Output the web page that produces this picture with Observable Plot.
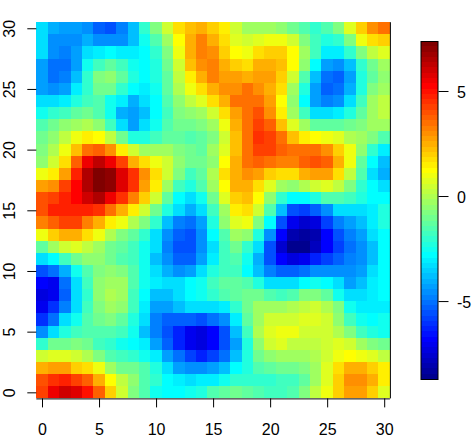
<!DOCTYPE html>
<html>
<head>
<meta charset="utf-8">
<script src="https://cdn.jsdelivr.net/npm/d3@7"></script>
<script src="https://cdn.jsdelivr.net/npm/@observablehq/plot@0.6"></script>
<style>
html,body{margin:0;padding:0;background:#fff;}
#wrap{position:relative;width:474px;height:444px;overflow:hidden;}
#wrap svg{position:absolute;left:0;top:0;background:transparent;}
</style>
</head>
<body>
<div id="wrap"></div>
<script>
const xTicks = [0,5,10,15,20,25,30];
const yTicks = [0,5,10,15,20,25,30];
const barTicks = [-5,0,5];
const zMin = -8.71, zMax = 7.38;
const palette = ["#00008F","#00009F","#0000AF","#0000BF","#0000CF","#0000DF","#0000EF","#0000FF","#0010FF","#0020FF","#0030FF","#0040FF","#0050FF","#0060FF","#0070FF","#0080FF","#008FFF","#009FFF","#00AFFF","#00BFFF","#00CFFF","#00DFFF","#00EFFF","#00FFFF","#10FFEF","#20FFDF","#30FFCF","#40FFBF","#50FFAF","#60FF9F","#70FF8F","#80FF80","#8FFF70","#9FFF60","#AFFF50","#BFFF40","#CFFF30","#DFFF20","#EFFF10","#FFFF00","#FFEF00","#FFDF00","#FFCF00","#FFBF00","#FFAF00","#FF9F00","#FF8F00","#FF8000","#FF7000","#FF6000","#FF5000","#FF4000","#FF3000","#FF2000","#FF1000","#FF0000","#EF0000","#DF0000","#CF0000","#BF0000","#AF0000","#9F0000","#8F0000","#800000"];
// rows from y = 30 (top) to y = 0 (bottom), columns x = 0..30
const zRows = [
[-3.4,-4,-4.3,-4.3,-4.6,-5.3,-5.5,-4.8,-3.8,-2.1,-.8,.4,1.6,2.2,2.6,2.1,1.4,.4,-.4,-.4,-.4,-.6,-1.1,-1.6,-2.1,-1.6,-.8,.7,2,3,3.5],
[-3.2,-4.5,-4.6,-4.5,-4.1,-4.5,-4.5,-4.5,-3.8,-2.6,-1.5,-.2,1.2,2.4,3.3,2.6,1.8,.8,.4,.8,1,1,.4,-.8,-1.8,-2.3,-2.1,-.8,1,1.7,2.1],
[-3.4,-4.6,-4.8,-4.2,-3.2,-3,-2.8,-3,-3,-2.8,-2.1,-.8,1,2.4,3.3,3.1,2,1.2,1,1.6,2,2,1.2,-.4,-1.8,-3,-3.1,-2.1,-.8,.2,.8],
[-4.2,-5,-5,-4.2,-2.6,-1.8,-1.3,-1.8,-2.6,-2.8,-2.3,-1,.5,2.2,2.9,3.2,2.5,2,1.7,2.4,2.5,2.3,1.2,-.6,-2.8,-4.2,-4.5,-3.8,-2.1,-1,-.4],
[-4.3,-5,-4.8,-3.8,-2.1,-.8,-.6,-1.2,-2.3,-2.8,-2.3,-1.2,.2,1.4,2.4,3.2,2.8,2.8,2.5,2.8,2.8,2,.4,-1.6,-3.8,-5,-5.3,-4.2,-2.3,-1.2,-.6],
[-4.2,-4.5,-4.2,-3,-2.1,-1,-1,-2.1,-2.8,-3,-2.6,-1.2,0,1,1.6,2.6,2.9,3.1,3.4,3.1,2.5,1.6,-.4,-2.3,-4.2,-5.3,-5,-4,-2.3,-.8,-.4],
[-3.4,-3.2,-3,-2.3,-1.8,-1.6,-2.6,-3,-4,-3.4,-2.8,-1.6,-.6,.2,.8,1.6,2.5,3.4,3.6,3.4,2.8,1.2,-.6,-2.8,-4.2,-4.8,-4.5,-3.3,-1.8,-.4,.2],
[-2.6,-2.1,-1.8,-1.3,-1,-1.6,-2.6,-4,-4.3,-3.8,-2.8,-1.8,-.8,-.6,-.4,.4,1.8,2.7,3.6,4,3.1,1.5,-.4,-1.8,-3.2,-3.4,-3,-2.3,-1.2,-.4,.2],
[-1.6,-1,-.6,-.4,0,-.6,-1.8,-3.4,-4.2,-3.4,-2.6,-1.6,-1,-1,-.8,-.4,1,2.4,3.6,4.2,3.7,2.2,.8,-.4,-1.2,-1.2,-1.2,-1,-.8,-.4,-.4],
[-1,-.6,.1,.9,1.5,1.2,.2,-1,-2.3,-2.3,-1.8,-1.3,-1.3,-1.5,-1.2,-.8,.4,2.3,3.6,4.4,4.2,3.4,2.2,1.5,1.2,1,.8,0,-.4,-.8,-1.6],
[-.8,0,1,2.2,3.6,3.8,3,1.5,.4,-.2,-.2,-.4,-.8,-1,-1.2,-.4,.8,2.3,3.6,4.2,4.2,3.7,3.4,3.4,3.4,3.1,2,1,-.6,-2.1,-3],
[-.6,.5,1.7,3.8,5.5,6.3,5.6,4.2,2.6,1.7,1,.4,-.6,-1,-1,-.5,1.2,2.4,3.4,3.8,3.6,3.3,3.3,3.7,4,3.7,2.4,1,-1.2,-2.8,-3.8],
[1,1.5,2.7,4.8,6.6,7.3,7,5.8,4.5,3.1,1.7,.4,-.8,-1.8,-1.2,0,1.6,2.4,3.1,2.8,2,1.7,1.7,2.4,2.8,2.8,1.7,.2,-1.6,-3.2,-4],
[2.7,3,4.2,5.2,6.6,7.3,7.1,5.8,4.5,2.8,1.4,-.2,-1.8,-2.3,-1.6,-.4,1.2,2.4,2.4,1.6,.8,-.4,-.6,0,.5,.8,.2,-.8,-2.1,-2.8,-3.4],
[4.1,4.3,4.8,5.2,6,6.4,5.5,4.5,3.3,2,.4,-1.2,-2.8,-3.2,-2.6,-1,.8,2,2.3,1.2,-.6,-2.1,-2.8,-2.8,-2.3,-1.6,-1.6,-1.8,-2.3,-2.8,-2.8],
[4,4.7,4.7,4.7,4.7,4.4,3.6,2.6,1.4,.4,-1,-2.3,-3.3,-4,-3.3,-1.8,-.4,1.5,1.8,.4,-1.6,-3.8,-5.5,-5.8,-5.3,-4.5,-3.4,-3.2,-3.2,-3,-2.3],
[3.2,3.7,4.2,4.2,3.2,2.5,1.4,.9,0,-.8,-2.1,-3.8,-4.8,-5,-4.3,-2.4,-.6,.7,1,-.8,-2.8,-5.5,-7.2,-7.7,-7.4,-5.8,-4.8,-4.2,-3.7,-3,-2.3],
[1,2.1,2.4,2.4,1.7,.9,0,-.8,-1.2,-2,-3.2,-4.5,-5.3,-5.5,-4.5,-2.8,-1.5,-.4,-.6,-2.3,-4.5,-6.8,-8,-8.3,-8,-6.8,-5.5,-4.8,-4.2,-3.4,-2.8],
[-1.2,-.4,.5,.8,.2,-.4,-1,-1.2,-1.8,-2.6,-3.4,-4.8,-5.5,-5.5,-4.5,-3.2,-1.8,-1,-2,-3.4,-5.5,-7.5,-8.6,-8.6,-7.8,-6.8,-5.8,-5,-4.5,-3.8,-2.8],
[-3.4,-2.8,-1.8,-1,-.6,-.6,-1,-1.6,-1.8,-2.6,-3.8,-4.5,-5.3,-5.3,-4.2,-3,-1.8,-1.5,-2.6,-4.1,-5.5,-6.8,-7.3,-7,-6.3,-5.8,-5.3,-4.8,-4.5,-3.8,-2.8],
[-5.5,-5,-4,-2.6,-1.6,-.8,-.6,-.8,-1.6,-2.6,-3.4,-4,-4.5,-4.2,-3.2,-2.3,-1.8,-1.8,-2.8,-3.8,-4.8,-5.3,-5.3,-5,-4.6,-4.5,-4.5,-4.5,-4.2,-3.3,-2.8],
[-6.8,-7,-5,-3.4,-1.8,-.6,-.4,-.4,-1.6,-2.6,-3,-3.4,-3.4,-2.8,-2.6,-1.8,-1.2,-1.2,-1.6,-2.3,-3.2,-3.2,-3.2,-2.8,-2.6,-2.8,-3.4,-4.2,-3.8,-3,-2.8],
[-7.3,-7,-5.3,-3.4,-2.1,-.6,-.1,-.4,-1.8,-2.8,-3.8,-3.8,-3.2,-2.8,-2.6,-2.1,-1.6,-1.2,-1,-1,-1.6,-1.8,-1.6,-.8,-.7,-1.2,-2.6,-3.2,-3.4,-3,-2.8],
[-7,-6,-4.8,-3.2,-1.8,-.8,-.4,-.6,-1.8,-3,-4.2,-4.2,-3.8,-3.4,-3.4,-3.4,-3,-2,-1,-.4,-.4,-.4,0,.2,.5,0,-.8,-2.6,-3,-3,-3],
[-6,-5,-3.4,-2.6,-1.6,-1,-.8,-1.2,-2.3,-3.4,-4.8,-5.3,-5.3,-5.3,-5.5,-5,-4.5,-3,-1.2,-.2,.4,.5,.5,.6,.8,.4,-.6,-1.8,-2.6,-2.8,-2.6],
[-4.5,-3.2,-2.3,-1.8,-1.6,-1.6,-1.6,-1.8,-2.6,-3.8,-4.8,-5.5,-6.3,-7,-7.3,-6.8,-5.5,-3.8,-1.8,0,.6,.9,.9,.5,.5,.5,0,-.8,-1.8,-2.3,-2.6],
[-2.1,-1,-1,-.8,-1,-1.8,-2.1,-2.6,-2.8,-3,-4.2,-5.3,-6.3,-7,-7.3,-6.8,-5.5,-4.2,-2.3,-.6,.5,.8,.2,.2,.2,.5,.6,.5,-.4,-.8,-1],
[.4,.8,.8,.5,0,-.8,-1.6,-1.8,-2.1,-2.6,-3,-4.2,-5,-5.8,-6.3,-5.8,-5,-3.8,-2.3,-1,-.6,-.4,-.4,-.4,0,.5,1,1.2,1,.8,.2],
[2.4,2.7,2.7,2.1,1.6,.9,-.4,-1,-1,-1.6,-2.3,-3.4,-4.2,-4.5,-4.5,-4.2,-3.8,-2.8,-2.3,-1.6,-1.2,-1,-1,-.8,-.4,.8,1.7,2.4,2.6,2,1.5],
[4,4.5,4.8,4.3,3.7,2.4,1.2,.2,-.6,-1.6,-2.1,-2.8,-3,-3.4,-3,-3,-2.6,-2.1,-2.1,-2.1,-2.1,-1.8,-1.8,-1.2,-.4,.8,2,3,3,2.4,1.4],
[4.3,5.6,6,5.8,5,3.7,1.9,.5,-.8,-1.6,-2.6,-2.8,-2.8,-2.6,-2.3,-1.6,-1.2,-1,-1.2,-1.6,-1.8,-1.8,-1.6,-.8,.1,1,2.1,2.7,2.7,2,.8]
];
const cells = zRows.flatMap((row, r) => row.map((z, c) => ({x: c, y: 30 - r, z})));
const step = (zMax - zMin) / palette.length;
const colorScale = {type: "threshold", domain: palette.slice(1).map((_, i) => zMin + (i + 1) * step), range: palette};
const levels = palette.map((_, i) => ({lo: zMin + i * step, hi: zMin + (i + 1) * step}));
const font = "'Liberation Sans', Arial, sans-serif";

const main = Plot.plot({
  width: 474, height: 444,
  marginLeft: 36.3, marginRight: 84.1, marginTop: 22.2, marginBottom: 45.6,
  style: {background: "transparent", fontFamily: font, fontSize: "16px", color: "black"},
  x: {domain: [-0.5, 30.5]},
  y: {domain: [-0.5, 30.5]},
  color: colorScale,
  marks: [
    Plot.rect(cells, {x1: d => d.x - 0.5, x2: d => d.x + 0.5, y1: d => d.y - 0.5, y2: d => d.y + 0.5, fill: "z", shapeRendering: "crispEdges"}),
    Plot.ruleY([-0.5], {stroke: "black"}),
    Plot.ruleX([30.5], {stroke: "black"}),
    Plot.axisX({ticks: xTicks, tickSize: 9, tickPadding: 16, label: null, fontSize: 16, stroke: "black"}),
    Plot.axisY({ticks: yTicks, tickSize: 9, tickPadding: 12.5, label: null, fontSize: 16, stroke: "black", tickRotate: -90, textAnchor: "middle"})
  ]
});

const bar = Plot.plot({
  width: 474, height: 444,
  marginLeft: 420.5, marginRight: 36.5, marginTop: 41, marginBottom: 65,
  style: {background: "transparent", fontFamily: font, fontSize: "16px", color: "black"},
  x: {domain: [0, 1], axis: null},
  y: {domain: [zMin, zMax]},
  color: colorScale,
  marks: [
    Plot.rect(levels, {x1: 0, x2: 1, y1: "lo", y2: "hi", fill: d => (d.lo + d.hi) / 2, shapeRendering: "crispEdges"}),
    Plot.frame({stroke: "black"}),
    Plot.axisY({anchor: "right", ticks: barTicks, tickSize: 10, text: null, label: null, stroke: "black"}),
    Plot.axisY({anchor: "right", ticks: barTicks, tickSize: 0, tickPadding: 19, dy: 1.5, label: null, fontSize: 16, tickFormat: d => String(d)})
  ]
});

const wrap = document.getElementById("wrap");
wrap.appendChild(main);
wrap.appendChild(bar);
</script>
</body>
</html>
